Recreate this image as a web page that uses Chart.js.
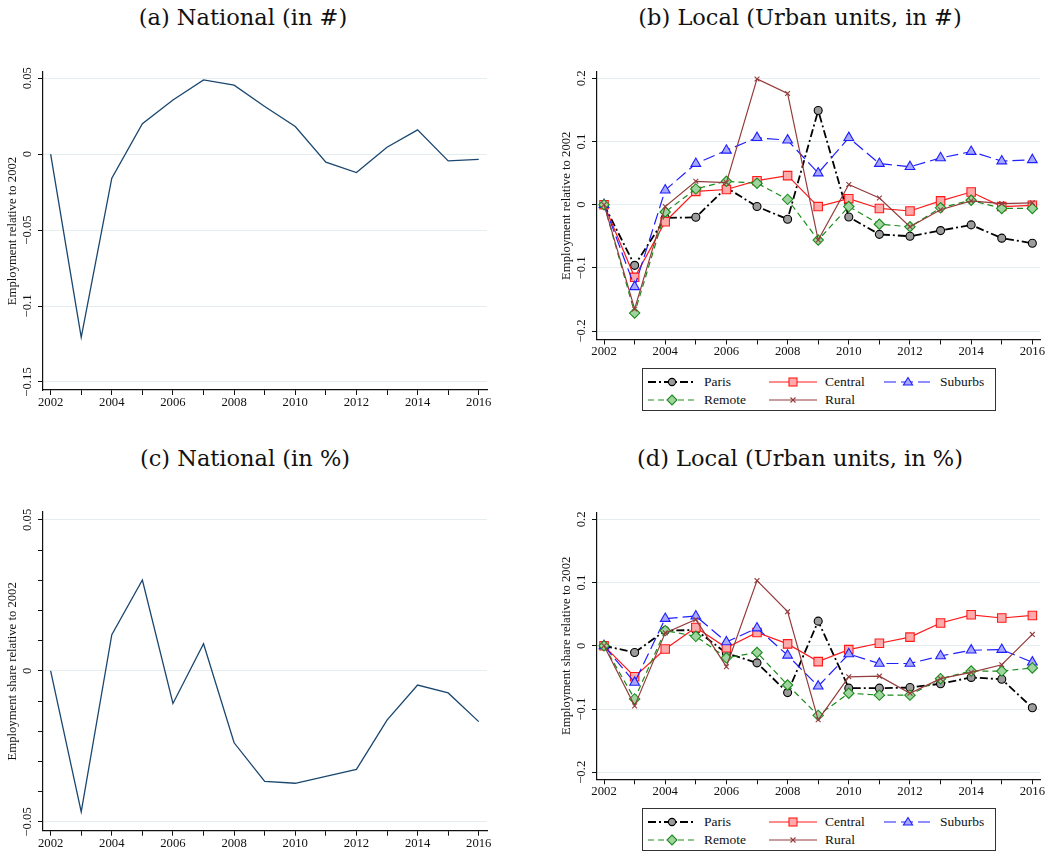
<!DOCTYPE html>
<html>
<head>
<meta charset="utf-8">
<script src="https://cdn.jsdelivr.net/npm/chart.js@4.4.1/dist/chart.umd.min.js"></script>
<style>
  html, body { margin: 0; padding: 0; background: #fff; }
  #wrap { position: relative; width: 1053px; height: 852px; overflow: hidden; background: #fff; }
  #wrap canvas { position: absolute; }
  .ttl { position: absolute; font-family: "DejaVu Serif"; font-size: 22.5px; line-height: 22px;
         color: #111; white-space: nowrap; transform: translateX(-50%); }
  .legend { position: absolute; border: 1.3px solid #333; box-sizing: border-box; background: #fff;
            font-family: "Liberation Serif"; font-size: 13.5px; color: #111; }
  .legend .it { position: absolute; height: 14px; }
  .legend .it svg { position: absolute; top: 0; }
  .legend .it span { position: absolute; top: -1px; line-height: 16px; white-space: nowrap; }
</style>
</head>
<body>
<div id="wrap"></div>
<script>
// ---------- data ----------
const years = [2002, 2003, 2004, 2005, 2006, 2007, 2008, 2009, 2010, 2011, 2012, 2013, 2014, 2015, 2016];
const xLabelYears = [2002, 2004, 2006, 2008, 2010, 2012, 2014, 2016];

// National employment relative to 2002 (counts and shares)
const nationalCount = [0, -0.1206, -0.0158, 0.0200, 0.0357, 0.0489, 0.0454, 0.0314, 0.0182, -0.0053, -0.0121, 0.0046, 0.0160, -0.0044, -0.0035];
const nationalShare = [0, -0.0467, 0.0120, 0.0301, -0.0108, 0.0090, -0.0238, -0.0366, -0.0372, -0.0349, -0.0326, -0.0163, -0.0047, -0.0073, -0.0168];

// Local employment by urban unit type, relative to 2002 (counts)
const parisCount   = [0, -0.096, -0.021, -0.020, 0.027, -0.003, -0.023, 0.149, -0.0195, -0.047, -0.050, -0.041, -0.032, -0.053, -0.061];
const centralCount = [0, -0.115, -0.027, 0.021, 0.024, 0.038, 0.046, -0.003, 0.0095, -0.006, -0.010, 0.006, 0.020, -0.003, -0.001];
const suburbsCount = [0, -0.130, 0.023, 0.065, 0.086, 0.106, 0.102, 0.050, 0.106, 0.065, 0.060, 0.074, 0.084, 0.069, 0.071];
const remoteCount  = [0, -0.1715, -0.0116, 0.025, 0.037, 0.034, 0.0084, -0.056, -0.003, -0.031, -0.035, -0.005, 0.007, -0.006, -0.006];
const ruralCount   = [0, -0.165, -0.003, 0.037, 0.035, 0.199, 0.176, -0.056, 0.032, 0.0105, -0.035, -0.008, 0.006, 0.0016, 0.003];

// Local employment shares by urban unit type, relative to 2002
const parisShare   = [0, -0.0105, 0.024, 0.025, -0.0116, -0.027, -0.074, 0.039, -0.067, -0.067, -0.066, -0.060, -0.050, -0.053, -0.098];
const centralShare = [0, -0.049, -0.005, 0.029, -0.003, 0.021, 0.003, -0.025, -0.006, 0.004, 0.0137, 0.036, 0.049, 0.044, 0.048];
const suburbsShare = [0, -0.058, 0.043, 0.047, 0.006, 0.028, -0.015, -0.064, -0.013, -0.028, -0.028, -0.016, -0.007, -0.006, -0.026];
const remoteShare  = [0, -0.084, 0.024, 0.015, -0.019, -0.0105, -0.062, -0.110, -0.075, -0.078, -0.078, -0.052, -0.040, -0.040, -0.035];
const ruralShare   = [0, -0.095, 0.0205, 0.0415, -0.033, 0.103, 0.054, -0.117, -0.049, -0.048, -0.075, -0.052, -0.042, -0.030, 0.018];

const seriesNames = ['Paris', 'Central', 'Suburbs', 'Remote', 'Rural'];

// tick values and their labels
const yTicksNational = [0.05, 0, -0.05, -0.1, -0.15];
const yLabelsNational = ['0.05', '0', '\u22120.05', '\u22120.1', '\u22120.15'];
const yTicksLocal = [0.2, 0.1, 0, -0.1, -0.2];
const yLabelsLocal = ['0.2', '0.1', '0', '\u22120.1', '\u22120.2'];
const yTicksShare = [0.05, 0, -0.05];
const yLabelsShare = ['0.05', '0', '\u22120.05'];
const yMinorShare = [0.04, 0.03, 0.02, 0.01, -0.01, -0.02, -0.03, -0.04];

// ---------- styles ----------
const NAVY = '#1a476f';
const GRID = '#e4eef0';
const FONT = 'Liberation Serif';
const seriesStyle = {
  Paris:   { color: '#000000', fill: '#9c9c9c', dash: [8, 3, 2, 3], width: 1.8, point: 'circle',   r: 4.0 },
  Central: { color: '#ff1a1a', fill: '#ffaaaa', dash: [],           width: 1.2, point: 'rect',     r: 6.0 },
  Suburbs: { color: '#1f1fff', fill: '#a8a8ff', dash: [12, 5],      width: 1.2, point: 'triangle', r: 5.6 },
  Remote:  { color: '#1c8c1c', fill: '#9fd39f', dash: [6, 4],       width: 1.2, point: 'rectRot',  r: 5.2 },
  Rural:   { color: '#943c3c', fill: '#943c3c', dash: [],           width: 1.2, point: 'crossRot', r: 3.4 }
};

Chart.defaults.font.family = FONT;
Chart.defaults.color = '#111';

const wrap = document.getElementById('wrap');

function addTitle(text, cx, cy) {
  const d = document.createElement('div');
  d.className = 'ttl';
  d.textContent = text;
  d.style.left = cx + 'px';
  d.style.top = (cy - 11) + 'px';
  wrap.appendChild(d);
}

// vertical tick labels and axis title, positioned from the y scale
const yAxisText = {
  id: 'yAxisText',
  afterDraw(chart, args, opts) {
    const ys = chart.scales.y;
    const ctx = chart.ctx;
    ctx.save();
    ctx.fillStyle = '#111';
    ctx.textAlign = 'center';
    ctx.textBaseline = 'middle';
    ctx.font = '12.7px "' + FONT + '"';
    opts.ticks.forEach((v, i) => {
      const py = ys.getPixelForValue(v);
      ctx.save();
      ctx.translate(ys.right - 15, py);
      ctx.rotate(-Math.PI / 2);
      ctx.fillText(opts.labels[i], 0, 0);
      ctx.restore();
    });
    const area = chart.chartArea;
    ctx.translate(ys.right - 30, (area.top + area.bottom) / 2);
    ctx.rotate(-Math.PI / 2);
    ctx.fillText(opts.title, 0, 0);
    ctx.restore();
  }
};

function panel(cfg) {
  const [bl, bt, bw, bh] = cfg.box;
  const [al, at, ar, ab] = cfg.area;
  const XH = 20;
  const c = document.createElement('canvas');
  c.width = bw; c.height = bh;
  c.style.left = bl + 'px'; c.style.top = bt + 'px';
  c.style.width = bw + 'px'; c.style.height = bh + 'px';
  wrap.appendChild(c);

  const majorSet = new Set(cfg.yTicks);
  const allY = cfg.yTicks.concat(cfg.yMinor || []);

  return new Chart(c.getContext('2d'), {
    type: 'line',
    data: { datasets: cfg.datasets },
    options: {
      responsive: false,
      animation: false,
      devicePixelRatio: 1,
      events: [],
      layout: { padding: { top: at - bt, left: 0, right: bl + bw - ar, bottom: bt + bh - ab - XH } },
      plugins: {
        legend: { display: false },
        tooltip: { enabled: false },
        yAxisText: { ticks: cfg.yTicks, labels: cfg.yLabels, title: cfg.yTitle }
      },
      scales: {
        x: {
          type: 'linear',
          min: cfg.xRange[0], max: cfg.xRange[1],
          afterBuildTicks: s => { s.ticks = years.map(v => ({ value: v })); },
          afterFit: s => { s.height = XH; },
          ticks: {
            autoSkip: false, maxRotation: 0, minRotation: 0, padding: 0,
            font: { size: 12.7, family: FONT }, color: '#111',
            callback: v => (xLabelYears.includes(v) ? String(v) : '')
          },
          grid: { drawOnChartArea: false, drawTicks: true, tickLength: 5, tickColor: '#111', tickWidth: 1 },
          border: { display: true, color: '#111', width: 1.2 }
        },
        y: {
          type: 'linear',
          min: cfg.yRange[0], max: cfg.yRange[1],
          afterBuildTicks: s => { s.ticks = allY.map(v => ({ value: v, lab: majorSet.has(v) })); },
          afterFit: s => { s.width = al - bl; },
          ticks: { display: false },
          grid: {
            drawOnChartArea: true, drawTicks: true, tickLength: 5, tickColor: '#111', tickWidth: 1,
            lineWidth: 1,
            color: ctx => (ctx.tick && ctx.tick.lab ? GRID : 'rgba(0,0,0,0)')
          },
          border: { display: true, color: '#111', width: 1.2 }
        }
      }
    },
    plugins: [yAxisText]
  });
}

function points(vals) { return years.map((y, i) => ({ x: y, y: vals[i] })); }

function nationalSet(vals) {
  return [{ data: points(vals), borderColor: NAVY, borderWidth: 1.3, pointRadius: 0, tension: 0, fill: false }];
}

function localSets(valsList) {
  return seriesNames.map((name, i) => {
    const st = seriesStyle[name];
    return {
      label: name,
      data: points(valsList[i]),
      borderColor: st.color,
      borderWidth: st.width,
      borderDash: st.dash,
      tension: 0,
      fill: false,
      pointStyle: st.point,
      pointRadius: st.r,
      pointBackgroundColor: st.fill,
      pointBorderColor: st.color,
      pointBorderWidth: 1.1,
      order: seriesNames.length - i
    };
  });
}

// legend drawn as a boxed three-column key
function addLegend(left, top) {
  const box = document.createElement('div');
  box.className = 'legend';
  box.style.left = left + 'px'; box.style.top = top + 'px';
  box.style.width = '354px'; box.style.height = '43px';
  const cols = [[5, 61], [126, 182], [241, 297]];
  seriesNames.forEach((name, i) => {
    const st = seriesStyle[name];
    const col = cols[i % 3];
    const row = Math.floor(i / 3);
    const it = document.createElement('div');
    it.className = 'it';
    it.style.left = '0px';
    it.style.top = (6 + row * 18) + 'px';
    const w = 48, cy = 7, mx = col[0] + w / 2;
    let marker = '';
    const fill = st.fill, col_ = st.color;
    if (st.point === 'circle') marker = `<circle cx="${mx}" cy="${cy}" r="3.6" fill="${fill}" stroke="${col_}" stroke-width="1.1"/>`;
    if (st.point === 'rect') marker = `<rect x="${mx - 4}" y="${cy - 4}" width="8" height="8" fill="${fill}" stroke="${col_}" stroke-width="1.1"/>`;
    if (st.point === 'triangle') marker = `<polygon points="${mx},${cy - 4.5} ${mx + 4.6},${cy + 3} ${mx - 4.6},${cy + 3}" fill="${fill}" stroke="${col_}" stroke-width="1.1"/>`;
    if (st.point === 'rectRot') marker = `<polygon points="${mx},${cy - 5} ${mx + 5},${cy} ${mx},${cy + 5} ${mx - 5},${cy}" fill="${fill}" stroke="${col_}" stroke-width="1.1"/>`;
    if (st.point === 'crossRot') marker = `<path d="M${mx - 2.5} ${cy - 2.5} L${mx + 2.5} ${cy + 2.5} M${mx + 2.5} ${cy - 2.5} L${mx - 2.5} ${cy + 2.5}" stroke="${col_}" stroke-width="1.1"/>`;
    it.innerHTML =
      `<svg width="360" height="14" style="left:0px"><line x1="${col[0]}" y1="${cy}" x2="${col[0] + w}" y2="${cy}" stroke="${col_}" stroke-width="${st.width}" stroke-dasharray="${st.dash.join(',') || 'none'}"/>${marker}</svg>` +
      `<span style="left:${col[1]}px">${name}</span>`;
    box.appendChild(it);
  });
  wrap.appendChild(box);
}

// ---------- panels ----------
addTitle('(a) National (in #)', 243, 17);
panel({
  box: [0, 0, 526, 426], area: [43, 72, 487, 390],
  xRange: [2001.75, 2016.27], yRange: [-0.1553, 0.0541],
  yTicks: yTicksNational, yLabels: yLabelsNational, yTitle: 'Employment relative to 2002',
  datasets: nationalSet(nationalCount)
});

addTitle('(b) Local (Urban units, in #)', 800, 17);
panel({
  box: [553, 0, 500, 370], area: [597, 72, 1040, 339.5],
  xRange: [2001.77, 2016.25], yRange: [-0.2134, 0.2100],
  yTicks: yTicksLocal, yLabels: yLabelsLocal, yTitle: 'Employment relative to 2002',
  datasets: localSets([parisCount, centralCount, suburbsCount, remoteCount, ruralCount])
});
addLegend(642, 368);

addTitle('(c) National (in %)', 245, 458);
panel({
  box: [0, 440, 526, 412], area: [43, 512, 487, 830.7],
  xRange: [2001.75, 2016.27], yRange: [-0.0529, 0.0526],
  yTicks: yTicksShare, yLabels: yLabelsShare, yMinor: yMinorShare, yTitle: 'Employment share relative to 2002',
  datasets: nationalSet(nationalShare)
});

addTitle('(d) Local (Urban units, in %)', 800, 458);
panel({
  box: [553, 440, 500, 370], area: [597, 512.3, 1040, 779.3],
  xRange: [2001.77, 2016.25], yRange: [-0.2111, 0.2111],
  yTicks: yTicksLocal, yLabels: yLabelsLocal, yTitle: 'Employment share relative to 2002',
  datasets: localSets([parisShare, centralShare, suburbsShare, remoteShare, ruralShare])
});
addLegend(642, 808);
</script>
</body>
</html>
